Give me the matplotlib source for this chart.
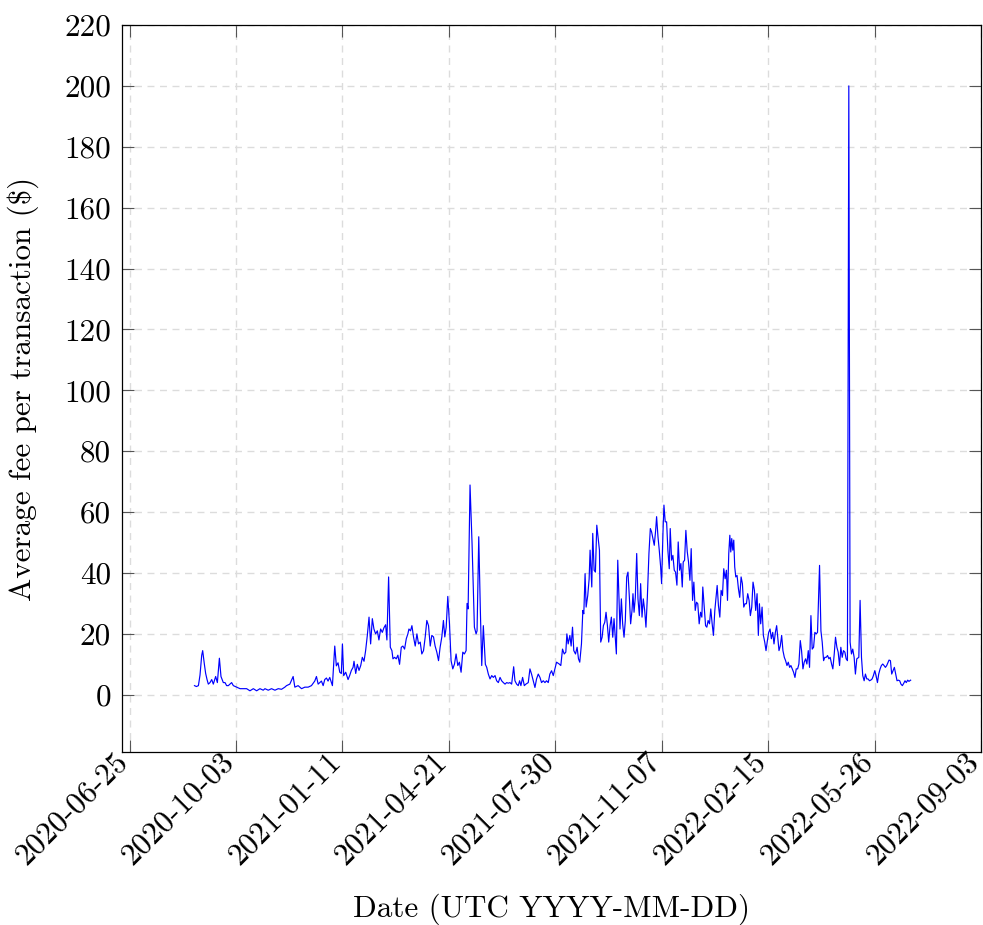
import numpy as np
import pandas as pd
import matplotlib
matplotlib.use("Agg")
import matplotlib.pyplot as plt
import matplotlib.dates as mdates
from matplotlib.transforms import ScaledTranslation

# ---------------- data ----------------
start_date = "2020-06-25"

# day offsets from start_date
day_offset = [
    61.0, 62.8, 64.7, 66.2, 67.8, 68.7, 70.3, 71.5, 72.8, 74.0, 75.6, 77.2, 78.7, 80.9, 82.5,
    84.4, 85.9, 88.1, 89.7, 91.2, 92.8, 95.9, 97.5, 100.6, 103.8, 106.9, 110.0, 113.1, 116.3,
    119.4, 122.5, 125.6,
    127.2, 130.3, 133.4, 136.6, 139.7, 142.8, 145.9, 147.5, 150.6, 153.7, 155.3, 158.4, 161.6,
    164.7, 167.8, 170.9, 174.0, 175.6, 177.2, 180.3, 181.9, 183.4, 185.0, 186.5,
    188.1, 190.6, 192.8, 194.3, 195.9, 197.5, 199.0, 200.0, 201.2, 203.1, 205.3, 206.8, 208.4,
    210.0, 210.9, 212.5, 214.0, 215.6, 217.2, 218.7, 220.3, 221.8, 223.4, 225.0, 226.5, 228.1,
    229.6, 231.2, 232.8, 234.3, 235.9, 237.5, 239.0, 240.6, 241.8, 243.4, 245.0, 246.5, 247.5,
    249.0, 250.6, 252.1, 253.7, 255.3, 256.8, 258.4,
    260.0, 261.5, 262.5, 264.0, 265.3, 266.8, 268.4, 270.0, 271.5, 273.1, 274.6, 276.2, 277.8,
    279.3, 280.9, 282.5, 284.0, 285.6, 287.1, 288.7, 290.3, 291.8, 293.4, 294.9, 296.2, 297.5,
    299.0, 300.6, 302.1, 303.7, 305.3, 306.8, 308.4, 309.9, 311.5, 313.1, 314.6, 316.2, 317.1,
    318.1, 319.9, 321.8, 324.0, 325.6, 326.5, 328.1, 329.6, 330.9, 332.4,
    334.3, 335.6, 337.1, 338.7, 340.3, 341.8, 343.4, 344.9, 346.5, 348.1, 349.6, 351.2, 352.8,
    354.3, 355.9, 357.4, 359.0, 360.9, 362.1, 363.7, 365.2, 366.5, 367.7, 369.3, 370.9, 372.4,
    374.6, 376.2, 377.7, 379.3, 380.9, 382.4, 384.0, 385.6, 387.1, 388.7, 390.3, 391.8, 393.4,
    394.9, 396.5, 398.1, 399.6, 401.2,
    403.7, 405.2, 406.8, 408.4, 409.9, 410.9, 412.1, 413.7, 414.9, 416.2, 417.4, 419.0, 420.5,
    421.8, 423.0, 424.6, 425.9, 426.8, 428.0, 429.0, 430.5, 431.8, 432.7, 434.3, 435.2, 436.5,
    437.7, 439.0, 440.2, 441.5, 442.7, 444.0, 445.2, 446.5, 447.7, 449.0, 450.2, 451.5, 452.7,
    454.0, 455.2, 456.5, 457.4, 458.7, 459.9, 460.8, 462.1, 463.3, 464.6, 465.8, 467.1, 468.3,
    469.6, 470.8, 472.1, 473.0, 474.0, 475.2, 476.5, 477.7, 479.0, 480.2, 481.5, 482.7, 484.0,
    485.2, 486.5, 488.0, 489.3, 490.5, 491.8, 493.0, 494.3, 495.2, 496.5, 497.7, 499.0, 499.9,
    501.2, 502.1, 503.3, 504.6, 505.8, 507.1, 508.0, 509.3, 510.5, 511.8, 513.0, 514.3, 515.5,
    516.8, 518.0, 519.3, 520.2, 521.5, 522.7, 524.0, 525.2, 526.5, 527.7, 529.0, 530.2, 531.5,
    532.7, 533.9, 535.2, 536.5, 537.7,
    538.6, 539.9, 541.2, 542.4, 543.6, 544.9, 546.1, 547.4, 548.6, 549.9, 551.1, 552.1, 553.3,
    554.6, 555.8, 557.1, 558.3, 559.6, 560.8, 561.8, 563.0, 564.0, 564.9, 565.8, 566.8, 567.7,
    568.6, 569.6, 570.8, 572.1, 573.3, 574.6, 575.8, 577.1, 578.3, 579.6, 580.8, 582.1, 583.3,
    584.6, 585.8, 587.1, 588.3, 589.6, 590.8, 591.8, 593.0, 594.3, 595.5, 596.8, 598.0, 599.3,
    600.5, 601.8, 603.0, 604.3, 605.5, 606.8, 608.0, 609.3,
    610.2, 611.4, 612.7, 613.9, 615.2, 616.4, 617.7, 618.9, 620.2, 621.4, 622.7, 623.9, 625.2,
    626.4, 627.7, 628.9, 630.2, 631.4, 632.7, 633.9, 635.2, 636.4, 637.7, 638.9, 640.2, 641.4,
    642.7, 643.9, 645.2, 646.4, 648.3, 649.6, 650.8, 652.1, 653.3, 654.6, 655.8, 657.1, 658.3,
    659.6, 660.8, 662.1, 663.3, 664.6, 665.8, 667.1, 668.3, 669.6, 670.8, 672.1,
    673.3, 674.5, 675.8, 677.0, 678.3, 679.5, 680.8, 682.0, 683.3, 685.2, 686.4, 687.7, 688.9,
    690.2, 691.4, 692.7, 693.9, 695.2, 696.4, 697.7, 698.9, 700.2, 701.4, 702.7, 703.9, 705.2,
    706.4, 707.7, 708.9, 710.2, 711.4, 712.7, 713.6, 714.9, 716.1, 717.4, 718.6, 719.9, 721.1,
    722.4, 723.6, 724.8, 726.1, 727.3, 728.6, 729.8, 731.1, 732.3, 733.9,
]

# average fee per transaction ($)
fee = [
    3.0, 2.7, 3.0, 6.5, 13.0, 14.5, 10.0, 7.0, 5.0, 3.5, 4.0, 5.0, 3.5, 6.0, 4.0,
    12.0, 6.0, 4.0, 4.0, 3.0, 3.0, 4.0, 3.0, 2.5, 2.0, 2.0, 2.0, 1.3, 2.0,
    1.3, 2.0, 1.5,
    2.0, 1.5, 2.0, 1.5, 2.0, 1.8, 2.5, 3.0, 3.5, 6.0, 2.5, 3.0, 2.0,
    2.5, 2.5, 3.0, 4.5, 6.0, 3.5, 4.5, 3.0, 5.0, 5.5, 4.5,
    5.7, 3.0, 16.0, 9.5, 10.5, 7.4, 7.0, 16.7, 6.3, 7.4, 5.0, 6.3, 8.0,
    9.0, 11.0, 7.0, 10.0, 8.0, 9.6, 12.3, 11.0, 14.5, 19.5, 25.5, 16.7, 25.0,
    21.6, 20.0, 21.0, 18.0, 21.6, 20.5, 22.0, 23.0, 18.0, 38.7, 15.6, 14.5, 11.8,
    12.3, 11.8, 13.0, 10.0, 15.6, 16.0, 15.0,
    18.4, 20.0, 21.6, 21.0, 22.7, 19.0, 16.0, 20.0, 16.7, 17.3, 13.4, 14.5, 19.0,
    24.4, 22.7, 16.0, 19.5, 19.0, 16.0, 14.0, 11.2, 15.6, 19.0, 24.4, 19.0, 22.2,
    32.3, 23.3, 11.2, 8.5, 10.1, 13.4, 9.6, 10.7, 7.4, 14.0, 13.4, 14.5, 30.0,
    28.2, 68.9, 49.7, 22.2, 20.0, 21.0, 51.9, 27.7, 9.6, 22.7,
    10.0, 9.0, 6.8, 5.2, 6.3, 5.7, 6.3, 4.6, 4.0, 5.7, 4.6, 4.0, 3.5,
    4.0, 3.8, 4.0, 3.5, 9.2, 4.6, 3.5, 3.0, 4.6, 3.0, 5.7, 3.0, 3.5,
    4.0, 8.5, 6.8, 4.6, 2.4, 5.2, 6.8, 5.7, 4.0, 4.6, 4.0, 4.6, 4.0,
    6.8, 7.9, 6.3, 8.5, 10.7,
    10.1, 9.6, 15.0, 13.4, 14.0, 20.0, 16.7, 19.5, 16.0, 22.2, 14.5, 13.4, 15.6,
    11.8, 10.7, 16.7, 27.7, 26.6, 39.8, 28.8, 32.6, 38.0, 47.5, 35.4, 53.0, 40.9,
    40.3, 55.7, 51.9, 47.5, 17.3, 18.9, 22.7, 23.8, 27.1, 22.7, 17.3, 22.7, 25.5,
    18.9, 25.0, 18.4, 13.4, 44.2, 31.0, 21.6, 31.5, 23.3, 18.9, 24.4, 38.7, 40.3,
    32.0, 23.3, 27.7, 33.2, 27.1, 32.0, 46.4, 31.5, 26.0, 36.5, 25.5, 31.5, 27.7,
    22.2, 32.0, 46.4, 54.6, 53.5, 51.3, 49.1, 54.0, 58.5, 51.9, 47.5, 42.0, 36.5,
    53.5, 62.3, 56.8, 56.8, 47.5, 41.4, 54.6, 44.2, 45.8, 40.9, 40.3, 36.0, 50.2,
    40.9, 43.1, 35.4, 43.6, 44.2, 54.0, 47.0, 43.6, 37.6, 48.0, 31.0, 37.0, 27.7,
    30.4, 29.9, 23.3, 27.1, 25.5,
    35.4, 28.8, 22.7, 22.2, 24.4, 23.3, 28.2, 23.3, 19.5, 27.7, 32.0, 35.9, 29.3,
    25.5, 34.3, 32.6, 41.4, 38.1, 40.9, 31.0, 46.4, 52.4, 46.9, 51.3, 47.5, 50.8,
    42.0, 38.7, 39.2, 34.8, 32.0, 38.7, 36.5, 28.8, 29.9, 29.9, 33.2, 31.0, 26.0,
    28.8, 37.0, 34.3, 27.7, 33.2, 19.5, 29.9, 23.3, 28.8, 19.5, 17.3, 14.5, 17.8,
    20.5, 21.6, 18.4, 20.5, 16.7, 20.5, 22.7, 17.8,
    14.5, 16.0, 19.5, 14.5, 12.3, 11.2, 9.6, 10.7, 9.0, 9.6, 8.5, 7.4, 5.7,
    8.5, 8.5, 10.1, 17.8, 14.5, 8.5, 10.7, 11.8, 10.1, 14.5, 9.0, 26.0, 15.0,
    15.6, 20.5, 20.0, 20.5, 42.5, 21.0, 17.3, 11.2, 12.3, 12.3, 12.9, 11.8, 12.3,
    10.1, 8.5, 13.4, 18.9, 15.6, 14.0, 9.6, 15.6, 12.3, 14.5, 14.0, 11.8,
    11.2, 200.0, 17.3, 13.4, 15.0, 12.3, 6.8, 11.8, 12.3, 31.0, 12.3, 6.3, 4.6,
    6.8, 5.2, 5.2, 4.6, 4.8, 5.2, 6.3, 7.9, 6.3, 4.0, 6.8, 8.5, 9.6,
    10.1, 9.6, 9.0, 9.6, 10.7, 11.4, 11.2, 6.8, 7.9, 9.0, 6.8, 4.6, 4.8,
    4.6, 3.5, 3.0, 3.7, 4.6, 4.0, 4.8, 4.4, 4.8, 5.2,
]

tick_dates = ["2020-06-25", "2020-10-03", "2021-01-11", "2021-04-21", "2021-07-30",
              "2021-11-07", "2022-02-15", "2022-05-26", "2022-09-03"]
y_ticks = [0, 20, 40, 60, 80, 100, 120, 140, 160, 180, 200, 220]

x_label = "Date (UTC YYYY-MM-DD)"
y_label = r"Average fee per transaction (\$)"

# ---------------- style ----------------
plt.rcParams["font.family"] = ["cmr10", "DejaVu Serif"]
plt.rcParams["mathtext.fontset"] = "cm"
plt.rcParams["axes.unicode_minus"] = False
plt.rcParams["axes.formatter.use_mathtext"] = True

FS = 22.4
W, H = 983, 925
fig = plt.figure(figsize=(W / 100, H / 100), dpi=100)
left, right, top, bottom = 122, 981, 25, 752
ax = fig.add_axes([left / W, 1 - bottom / H, (right - left) / W, (bottom - top) / H])

t0 = pd.Timestamp(start_date)
dates = t0 + pd.to_timedelta(np.asarray(day_offset), unit="D")
n = min(len(dates), len(fee))
ax.plot(dates[:n], fee[:n], color="#0000ff", lw=0.85, zorder=3)

ax.set_xlim(t0 + pd.Timedelta(days=-7.1), t0 + pd.Timedelta(days=798.2))
ax.set_ylim(-18.8, 220)

ax.set_xticks(pd.to_datetime(tick_dates))
ax.xaxis.set_major_formatter(mdates.DateFormatter("%Y-%m-%d"))
ax.set_yticks(y_ticks)
ax.set_yticklabels([str(v) for v in y_ticks])

ax.grid(True, color="#dcdcdc", linestyle=(0, (5, 4)), lw=1.0, zorder=0)
ax.set_axisbelow(True)
ax.tick_params(direction="in", length=8.5, width=0.8, color="#555555",
               top=True, right=True, labelsize=FS)
ax.tick_params(axis="y", pad=8)
ax.tick_params(axis="x", pad=4)
for sp in ax.spines.values():
    sp.set_linewidth(0.9)
    sp.set_color("black")

ax.set_xlabel(x_label, fontsize=FS)
ax.set_ylabel(y_label, fontsize=FS)
ax.xaxis.set_label_coords(0.5, -0.195)
ax.yaxis.set_label_coords(-0.097, 0.5)

fig.canvas.draw()
shift = ScaledTranslation(-6 / 100, 0, fig.dpi_scale_trans)
for lab in ax.get_xticklabels():
    lab.set_rotation(45)
    lab.set_ha("right")
    lab.set_va("center")
    lab.set_rotation_mode("anchor")
    lab.set_transform(lab.get_transform() + shift)

fig.savefig("out.png", dpi=100)
